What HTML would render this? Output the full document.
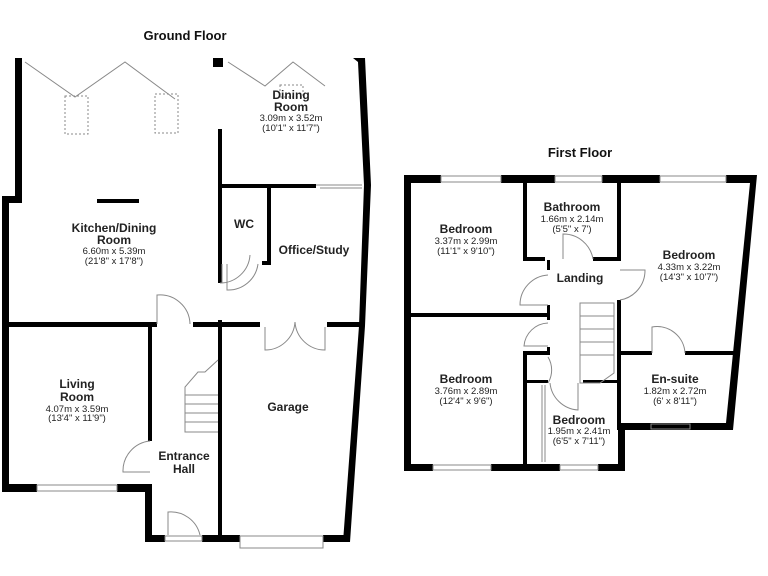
<!DOCTYPE html>
<html><head><meta charset="utf-8"><style>
html,body{margin:0;padding:0;background:#fff}
svg{display:block}
text{font-family:"Liberation Sans",sans-serif;fill:#222;text-anchor:middle}
.t{font-weight:bold;font-size:12px}
.s{font-size:9.5px}
.h{font-weight:bold;font-size:13px;fill:#111}
</style></head><body>
<svg width="768" height="576" viewBox="0 0 768 576" xmlns="http://www.w3.org/2000/svg">
<text class="h" x="185" y="40">Ground Floor</text>
<text class="h" x="580" y="157">First Floor</text>
<g fill="#000">
<!-- ground floor walls -->
<rect x="15" y="58" width="7" height="142"/>
<rect x="2" y="196" width="20" height="7"/>
<rect x="2" y="196" width="7" height="296"/>
<rect x="2" y="484" width="35" height="8"/>
<rect x="117" y="484" width="35" height="8"/>
<rect x="145" y="484" width="7" height="58"/>
<rect x="148" y="326" width="4" height="115"/>
<rect x="145" y="535" width="20" height="7"/>
<rect x="202" y="535" width="38" height="7"/>
<rect x="323" y="535" width="27" height="7"/>
<polygon points="343,542 350,542 365,326 371,185 365,58 353,58 358,62 364,185 359,326"/>
<rect x="2" y="322" width="155" height="5"/>
<rect x="193" y="322" width="67" height="5"/>
<rect x="327" y="322" width="36" height="5"/>
<rect x="218" y="320" width="4" height="222"/>
<rect x="218" y="129" width="4" height="154"/>
<rect x="218" y="184" width="98" height="4"/>
<rect x="267" y="184" width="4" height="80"/>
<rect x="262" y="261" width="9" height="4"/>
<rect x="97" y="199" width="42" height="4"/>
<rect x="213" y="58" width="10" height="9"/>
<!-- first floor walls -->
<rect x="404" y="175" width="37" height="8"/>
<rect x="501" y="175" width="54" height="8"/>
<rect x="602" y="175" width="58" height="8"/>
<polygon points="726,175 757,175 733,430 618,430 618,423 726,423 750,183 726,183"/>
<rect x="404" y="175" width="7" height="296"/>
<rect x="404" y="464" width="29" height="7"/>
<rect x="491" y="464" width="69" height="7"/>
<rect x="598" y="464" width="27" height="7"/>
<rect x="618" y="428" width="7" height="43"/>
<rect x="618" y="423" width="33" height="7"/>
<rect x="690" y="423" width="37" height="7"/>
<rect x="523" y="175" width="4" height="85"/>
<rect x="523" y="257" width="22" height="4"/>
<rect x="593" y="257" width="28" height="4"/>
<rect x="617" y="175" width="4" height="86"/>
<rect x="617" y="300" width="4" height="130"/>
<rect x="547" y="260" width="3" height="10"/>
<rect x="547" y="305" width="3" height="15"/>
<rect x="411" y="313" width="139" height="4"/>
<rect x="547" y="347" width="3" height="8"/>
<rect x="523" y="351" width="27" height="4"/>
<rect x="523" y="351" width="4" height="120"/>
<rect x="527" y="380" width="21" height="3"/>
<rect x="583" y="380" width="38" height="3"/>
<rect x="620" y="351" width="32" height="4"/>
<rect x="685" y="351" width="50" height="4"/>
</g>
<g fill="none" stroke="#888" stroke-width="1">
<!-- bifold -->
<polyline points="25,62 75,97 125,62 175,99"/>
<polyline points="228,62 265,86 293,62 325,86"/>
<rect x="65" y="96" width="23" height="38" stroke-dasharray="2,2"/>
<rect x="155" y="94" width="23" height="39" stroke-dasharray="2,2"/>
<rect x="280" y="85" width="23" height="12" stroke-dasharray="2,2"/>
<line x1="316" y1="185" x2="362" y2="185"/><line x1="320" y1="188" x2="362" y2="188"/>
<!-- windows ground -->
<rect x="37" y="485" width="80" height="6"/>
<rect x="240" y="536" width="83" height="12"/>
<rect x="165" y="536" width="37" height="5"/>
<!-- doors ground -->
<path d="M157,324 V295 A30,30 0 0 1 190,324"/>
<path d="M220,283 A30,30 0 0 0 250,255 M222,264 L222,283"/>
<path d="M227,264 V290 A30,30 0 0 0 258,264"/>
<path d="M150,441 A30,30 0 0 0 123,472 H150"/>
<path d="M168,535 V512 A30,30 0 0 1 200,535"/>
<path d="M265,327 V350 A30,30 0 0 0 295,322 A30,30 0 0 0 325,350 V327"/>
<!-- stairs ground -->
<path d="M218,360 L205,372 L198,372 L185,387 V432 H218"/>
<line x1="185" y1="395" x2="218" y2="395"/><line x1="185" y1="404" x2="218" y2="404"/>
<line x1="185" y1="413" x2="218" y2="413"/><line x1="185" y1="422" x2="218" y2="422"/>
<!-- windows first -->
<rect x="441" y="176" width="60" height="6"/><rect x="555" y="176" width="47" height="6"/>
<rect x="660" y="176" width="66" height="6"/><rect x="433" y="465" width="58" height="5"/>
<rect x="560" y="465" width="38" height="5"/><rect x="651" y="424" width="39" height="5"/>
<!-- doors first -->
<path d="M563,259 V234 A30,30 0 0 1 593,259"/>
<path d="M548,275 A30,30 0 0 0 520,305 H548"/>
<path d="M620,270 H645 A30,30 0 0 1 620,300"/>
<path d="M548,323 A25,25 0 0 0 524,346 H548"/>
<path d="M548,357 A25,25 0 0 1 548,383"/>
<path d="M550,383 A30,30 0 0 0 578,410 V383"/>
<path d="M652,353 V327 A28,28 0 0 1 685,353"/>
<line x1="542" y1="385" x2="542" y2="462"/><line x1="545" y1="385" x2="545" y2="462"/>
<!-- stairs first -->
<path d="M580,303 H614 V373 L600,383 H580 Z"/>
<line x1="580" y1="316" x2="614" y2="316"/><line x1="580" y1="329" x2="614" y2="329"/>
<line x1="580" y1="342" x2="614" y2="342"/><line x1="580" y1="355" x2="614" y2="355"/>
</g>
<!-- labels ground -->
<text class="t" x="291" y="99">Dining</text><text class="t" x="291" y="111">Room</text>
<text class="s" x="291" y="121">3.09m x 3.52m</text><text class="s" x="291" y="131">(10'1" x 11'7")</text>
<text class="t" x="114" y="232">Kitchen/Dining</text><text class="t" x="114" y="244">Room</text>
<text class="s" x="114" y="254">6.60m x 5.39m</text><text class="s" x="114" y="264">(21'8" x 17'8")</text>
<text class="t" x="244" y="228">WC</text>
<text class="t" x="314" y="254">Office/Study</text>
<text class="t" x="77" y="388">Living</text><text class="t" x="77" y="401">Room</text>
<text class="s" x="77" y="412">4.07m x 3.59m</text><text class="s" x="77" y="421">(13'4" x 11'9")</text>
<text class="t" x="288" y="411">Garage</text>
<text class="t" x="184" y="460">Entrance</text><text class="t" x="184" y="473">Hall</text>
<!-- labels first -->
<text class="t" x="466" y="233">Bedroom</text>
<text class="s" x="466" y="244">3.37m x 2.99m</text><text class="s" x="466" y="254">(11'1" x 9'10")</text>
<text class="t" x="572" y="211">Bathroom</text>
<text class="s" x="572" y="222">1.66m x 2.14m</text><text class="s" x="572" y="232">(5'5" x 7')</text>
<text class="t" x="580" y="282">Landing</text>
<text class="t" x="689" y="259">Bedroom</text>
<text class="s" x="689" y="270">4.33m x 3.22m</text><text class="s" x="689" y="280">(14'3" x 10'7")</text>
<text class="t" x="466" y="383">Bedroom</text>
<text class="s" x="466" y="394">3.76m x 2.89m</text><text class="s" x="466" y="404">(12'4" x 9'6")</text>
<text class="t" x="675" y="383">En-suite</text>
<text class="s" x="675" y="394">1.82m x 2.72m</text><text class="s" x="675" y="404">(6' x 8'11")</text>
<text class="t" x="579" y="424">Bedroom</text>
<text class="s" x="579" y="434">1.95m x 2.41m</text><text class="s" x="579" y="444">(6'5" x 7'11")</text>
</svg>
</body></html>
